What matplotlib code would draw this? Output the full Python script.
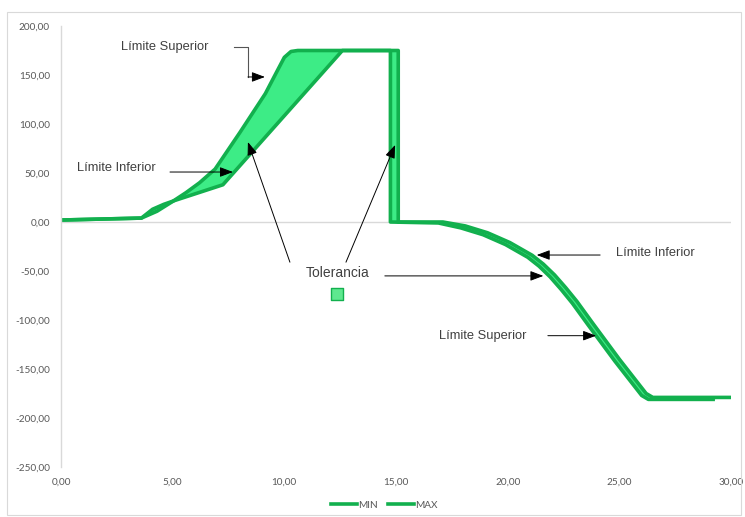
import matplotlib
matplotlib.use("Agg")
import matplotlib.pyplot as plt
from matplotlib.ticker import FuncFormatter
from matplotlib.patches import Rectangle

# Upper envelope (MAX): rise, plateau, drop, descent, final plateau
max_x = [0.0, 3.6, 4.3, 5.0, 5.6, 6.2, 6.9, 8.0, 9.15, 9.7, 10.0, 10.3, 10.6,
         15.1, 15.1, 17.1, 18.1, 19.1, 20.1, 21.1, 21.6, 22.1, 22.6, 23.1, 23.8,
         25.0, 26.2, 26.5, 30.0]
max_y = [2.0, 4.0, 11.0, 21.0, 30.0, 40.0, 54.0, 91.0, 131.0, 155.0, 168.0, 174.0, 175.0,
         175.0, 0.0, 0.0, -4.0, -11.0, -21.0, -34.0, -43.0, -54.0, -67.0, -81.0, -103.0,
         -140.0, -175.0, -179.0, -179.0]

# Lower envelope (MIN)
min_x = [0.0, 3.6, 4.1, 4.6, 5.1, 7.25, 12.6, 14.75, 14.75, 16.9, 17.9, 18.9, 19.9,
         20.9, 21.4, 21.9, 22.4, 22.9, 23.6, 24.8, 26.0, 26.3, 29.2]
min_y = [2.0, 4.0, 13.0, 18.0, 22.0, 38.0, 175.0, 175.0, 0.0, -1.0, -6.0, -13.0, -23.0,
         -36.0, -45.0, -56.0, -69.0, -83.0, -105.0, -142.0, -177.0, -181.0, -181.0]

y_ticks = [200, 150, 100, 50, 0, -50, -100, -150, -200, -250]
x_ticks = [0, 5, 10, 15, 20, 25, 30]

LINE = "#12b04e"
FILL = "#3dec86"
TXT = "#404040"
TICK = "#595959"

fig = plt.figure(figsize=(7.45, 5.17), dpi=100)
ax = fig.add_axes([61 / 745, 1 - 467 / 517, 670 / 745, 441 / 517])

# tolerance band
ax.fill(max_x + min_x[::-1], max_y + min_y[::-1], color=FILL, lw=0, zorder=1)
ax.plot(min_x, min_y, color=LINE, lw=2.6, solid_joinstyle="round", label="MIN", zorder=2)
ax.plot(max_x, max_y, color=LINE, lw=2.6, solid_joinstyle="round", label="MAX", zorder=2)

ax.set_xlim(x_ticks[0], x_ticks[-1])
ax.set_ylim(y_ticks[-1], y_ticks[0])
ax.set_xticks(x_ticks)
ax.set_yticks(y_ticks)
fmt = FuncFormatter(lambda v, p: f"{v:.2f}".replace(".", ","))
ax.xaxis.set_major_formatter(fmt)
ax.yaxis.set_major_formatter(fmt)
ax.tick_params(length=0, labelsize=7.2, labelcolor=TICK)
ax.tick_params(axis="y", pad=8)
ax.tick_params(axis="x", pad=8)
for lab in ax.get_xticklabels() + ax.get_yticklabels():
    lab.set_family("Lato")

for s in ["top", "right", "bottom"]:
    ax.spines[s].set_visible(False)
ax.spines["left"].set_color("#d9d9d9")
ax.spines["left"].set_linewidth(1.0)
ax.axhline(0, color="#d9d9d9", lw=1.0, zorder=0)

afont = dict(family="Liberation Sans", color=TXT, fontsize=9.3)
arrow = dict(arrowstyle="-|>,head_length=0.8,head_width=0.3", color="black", lw=0.7,
             shrinkA=0, shrinkB=0)

# ascending side
ax.text(4.66, 178.6, "Límite Superior", ha="center", va="center", **afont)
ax.plot([7.75, 8.37, 8.37], [178.6, 178.6, 148.0], color="#555555", lw=0.8, zorder=3)
ax.annotate("", xy=(9.13, 148.0), xytext=(8.37, 148.0), arrowprops=arrow)

ax.text(2.46, 55.0, "Límite Inferior", ha="center", va="center", **afont)
ax.annotate("", xy=(7.7, 51.0), xytext=(4.88, 51.0), arrowprops=arrow)

# tolerance label
ax.text(12.4, -52.0, "Tolerancia", ha="center", va="center",
        family="Liberation Sans", color=TXT, fontsize=10)
ax.annotate("", xy=(8.37, 81.6), xytext=(10.25, -41.0), arrowprops=arrow)
ax.annotate("", xy=(14.96, 78.6), xytext=(12.76, -41.0), arrowprops=arrow)
ax.annotate("", xy=(21.6, -55.0), xytext=(14.5, -55.0), arrowprops=arrow)
ax.scatter([12.36], [-73.5], marker="s", s=70, color="#5ee88f", edgecolor=LINE,
           linewidth=1.0, zorder=4)

# descending side
ax.text(26.6, -31.6, "Límite Inferior", ha="center", va="center", **afont)
ax.annotate("", xy=(21.3, -33.7), xytext=(24.14, -33.7), arrowprops=arrow)
ax.text(18.9, -116.0, "Límite Superior", ha="center", va="center", **afont)
ax.annotate("", xy=(23.96, -116.0), xytext=(21.8, -116.0), arrowprops=arrow)

leg = fig.legend(loc="center", bbox_to_anchor=(384 / 745, 1 - 505 / 517), ncol=2,
                 frameon=False, handlelength=2.6, handletextpad=0.1, columnspacing=1.0,
                 prop={"family": "Lato", "size": 7.2})
for t in leg.get_texts():
    t.set_color(TICK)

fig.patches.append(Rectangle((7 / 745, 2 / 517), 734 / 745, 503 / 517,
                             transform=fig.transFigure, fill=False,
                             edgecolor="#d9d9d9", lw=0.8))

fig.savefig("out.png", dpi=100)
